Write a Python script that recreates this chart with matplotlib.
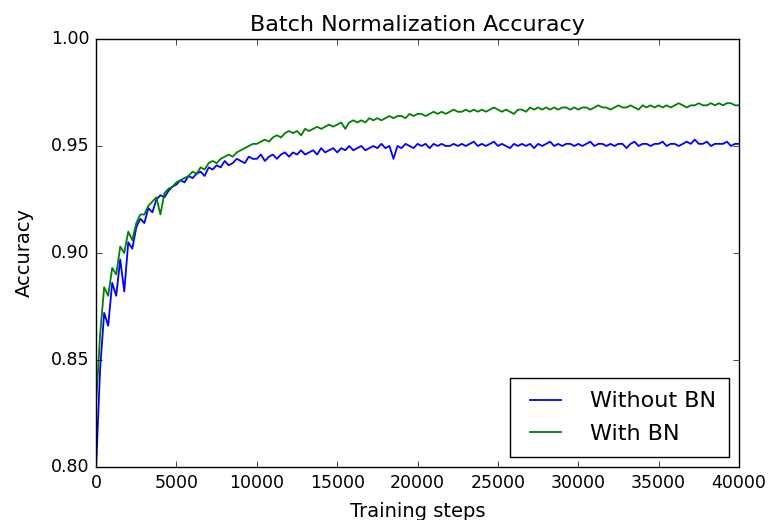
import numpy as np
import matplotlib
matplotlib.use("Agg")
import matplotlib.pyplot as plt

acc_without_bn = [
    0.800, 0.846, 0.872, 0.866, 0.886, 0.880, 0.897, 0.882, 0.905, 0.902,
    0.912, 0.916, 0.914, 0.921, 0.919, 0.925, 0.927, 0.926, 0.929, 0.931,
    0.932, 0.934, 0.933, 0.936, 0.935, 0.937, 0.938, 0.936, 0.940, 0.939,
    0.941, 0.940, 0.943, 0.941, 0.942, 0.944, 0.943, 0.942, 0.945, 0.944,
    0.944, 0.946, 0.943, 0.945, 0.946, 0.944, 0.946, 0.947, 0.945, 0.947,
    0.946, 0.948, 0.946, 0.947, 0.948, 0.946, 0.949, 0.947, 0.948, 0.949,
    0.947, 0.949, 0.948, 0.950, 0.948, 0.949, 0.950, 0.948, 0.949, 0.950,
    0.949, 0.951, 0.949, 0.950, 0.944, 0.950, 0.949, 0.951, 0.950, 0.949,
    0.951, 0.950, 0.951, 0.949, 0.951, 0.950, 0.951, 0.950, 0.950, 0.951,
    0.950, 0.951, 0.950, 0.951, 0.952, 0.950, 0.951, 0.950, 0.951, 0.952,
    0.950, 0.951, 0.950, 0.949, 0.951, 0.950, 0.951, 0.950, 0.951, 0.949,
    0.951, 0.950, 0.951, 0.952, 0.950, 0.951, 0.950, 0.951, 0.951, 0.950,
    0.951, 0.950, 0.951, 0.952, 0.950, 0.951, 0.951, 0.950, 0.951, 0.950,
    0.951, 0.951, 0.949, 0.951, 0.952, 0.950, 0.951, 0.951, 0.950, 0.951,
    0.951, 0.952, 0.950, 0.951, 0.951, 0.950, 0.951, 0.952, 0.951, 0.953,
    0.951, 0.951, 0.952, 0.950, 0.951, 0.951, 0.951, 0.952, 0.950, 0.951,
    0.951,
]
acc_with_bn = [
    0.830, 0.862, 0.884, 0.880, 0.893, 0.890, 0.903, 0.900, 0.910, 0.906,
    0.914, 0.918, 0.918, 0.922, 0.924, 0.926, 0.918, 0.928, 0.930, 0.931,
    0.933, 0.934, 0.935, 0.936, 0.938, 0.937, 0.940, 0.939, 0.942, 0.943,
    0.942, 0.944, 0.945, 0.946, 0.945, 0.947, 0.948, 0.949, 0.950, 0.951,
    0.951, 0.952, 0.953, 0.952, 0.954, 0.955, 0.954, 0.956, 0.957, 0.956,
    0.957, 0.955, 0.958, 0.957, 0.958, 0.959, 0.958, 0.959, 0.960, 0.959,
    0.960, 0.961, 0.958, 0.961, 0.962, 0.961, 0.962, 0.961, 0.963, 0.962,
    0.963, 0.962, 0.963, 0.964, 0.963, 0.964, 0.964, 0.963, 0.965, 0.964,
    0.965, 0.965, 0.964, 0.965, 0.966, 0.965, 0.966, 0.965, 0.966, 0.967,
    0.966, 0.966, 0.967, 0.966, 0.967, 0.966, 0.967, 0.966, 0.967, 0.968,
    0.967, 0.966, 0.967, 0.966, 0.965, 0.967, 0.967, 0.966, 0.968, 0.967,
    0.968, 0.967, 0.968, 0.967, 0.968, 0.967, 0.968, 0.968, 0.967, 0.968,
    0.967, 0.968, 0.968, 0.967, 0.968, 0.969, 0.968, 0.968, 0.967, 0.968,
    0.969, 0.968, 0.968, 0.969, 0.968, 0.967, 0.969, 0.968, 0.969, 0.968,
    0.969, 0.968, 0.969, 0.968, 0.969, 0.970, 0.969, 0.968, 0.969, 0.969,
    0.970, 0.969, 0.969, 0.970, 0.969, 0.970, 0.969, 0.970, 0.970, 0.969,
    0.969,
]
step_size = 250
steps = np.arange(len(acc_without_bn)) * step_size

plt.style.use("classic")
fig = plt.figure(figsize=(7.69, 5.2), dpi=100, facecolor="white")
ax = fig.add_axes([0.125, 0.102, 0.836, 0.823])

ax.plot(steps, acc_without_bn, "b", lw=1.3, label="Without BN")
ax.plot(steps, acc_with_bn, "g", lw=1.3, label="With BN")

ax.set_xlim(0, 40000)
ax.set_ylim(0.80, 1.00)
ax.set_yticks([0.80, 0.85, 0.90, 0.95, 1.00])
ax.tick_params(labelsize=12.5, pad=5)
ax.set_title("Batch Normalization Accuracy", fontsize=16, pad=6)
ax.set_xlabel("Training steps", fontsize=14, labelpad=7)
ax.set_ylabel("Accuracy", fontsize=14, labelpad=12)
ax.legend(loc="lower right", fontsize=16, handletextpad=1.0,
          labelspacing=0.55, borderpad=0.6, borderaxespad=0.45)

fig.savefig("out.png", dpi=100, facecolor="white")
